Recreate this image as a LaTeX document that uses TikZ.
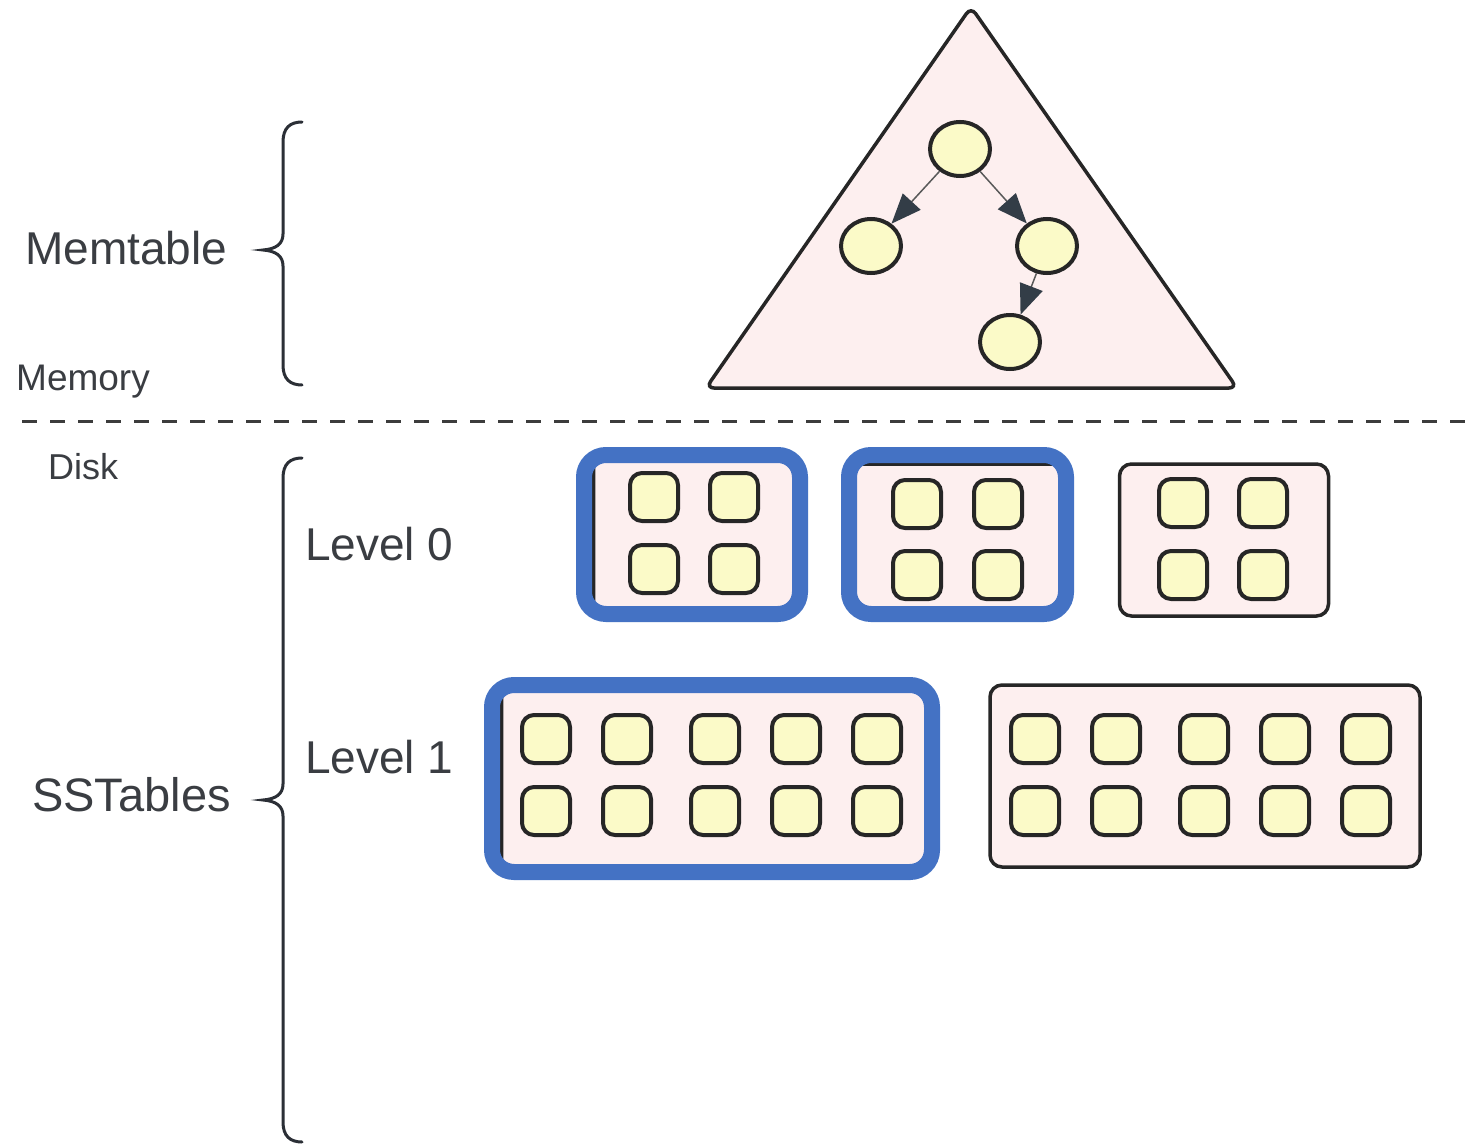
\documentclass[tikz,border=0pt]{standalone}
\usepackage{fontspec}
\setmainfont{Liberation Sans}
\usetikzlibrary{shapes.geometric,arrows.meta}

\definecolor{inkdark}{HTML}{262626}
\definecolor{textgray}{HTML}{3A3D42}
\definecolor{pinkfill}{HTML}{FDEFEF}
\definecolor{cellyellow}{HTML}{FBFAC8}
\definecolor{pickblue}{HTML}{4472C4}
\definecolor{headgray}{HTML}{333D47}
\definecolor{bracegray}{HTML}{2B2F36}

\begin{document}
\begin{tikzpicture}[x=1pt,y=-1pt,
  lbl/.style={text=textgray, inner sep=0pt, anchor=base west},
  cell/.style={draw=inkdark, fill=cellyellow, line width=4pt, rounded corners=12pt,
    minimum width=48pt, minimum height=48pt, inner sep=0pt},
  sstable/.style={draw=inkdark, fill=pinkfill, line width=3.5pt, rounded corners=12pt,
    inner sep=0pt, outer sep=0pt},
  picked/.style={draw=pickblue, line width=16pt, rounded corners=22pt,
    inner sep=0pt, outer sep=0pt},
  treenode/.style={ellipse, draw=inkdark, fill=cellyellow, line width=4pt,
    minimum width=60pt, minimum height=54pt, inner sep=0pt},
  treearrow/.style={draw=black!65, line width=1.5pt,
    -{Triangle[length=30pt,width=24pt,color=headgray]}},
  brace/.style={draw=bracegray, line width=3pt, line cap=round},
]
\useasboundingbox[fill=white] (0,0) rectangle (1472,1145);

% ---- labels ----
\node[lbl, font=\fontsize{46}{50}\selectfont] (memtable) at (25,264) {Memtable};
\node[lbl, font=\fontsize{37}{40}\selectfont] (memory) at (16,390) {Memory};
\node[lbl, font=\fontsize{36}{40}\selectfont] (disk) at (48,479) {Disk};
\node[lbl, font=\fontsize{46}{50}\selectfont] (level0) at (305,560) {Level 0};
\node[lbl, font=\fontsize{46}{50}\selectfont] (level1) at (305,773) {Level 1};
\node[lbl, font=\fontsize{47}{50}\selectfont] (sstables) at (32,811) {SSTables};

% ---- braces ----
\draw[brace] (302,122) .. controls (290,122) and (283,128) .. (283,142)
  -- (283,234) .. controls (283,244) and (276,249) .. (263,250)
  .. controls (276,251) and (283,256) .. (283,266)
  -- (283,365) .. controls (283,379) and (290,385) .. (302,385);
\draw[brace] (302,458) .. controls (290,458) and (283,464) .. (283,478)
  -- (283,784) .. controls (283,794) and (276,799) .. (263,800)
  .. controls (276,801) and (283,806) .. (283,816)
  -- (283,1122) .. controls (283,1136) and (290,1142) .. (302,1142);

% ---- memory / disk divider ----
\draw[draw=inkdark!90, line width=3pt, dash pattern=on 15pt off 13pt]
  (22,421) -- (1472,421);

% ---- memtable: tree inside a triangle ----
\draw[fill=pinkfill, draw=inkdark, line width=3.5pt, rounded corners=8pt]
  (971,388) -- (706,388) -- (971,7) -- (1237,388) -- cycle;
\node[treenode] (root) at (960,149) {};
\node[treenode] (left) at (871,246) {};
\node[treenode] (right) at (1047,246) {};
\node[treenode] (leaf) at (1010,342) {};
\draw[treearrow] (root) -- (left);
\draw[treearrow] (root) -- (right);
\draw[treearrow] (right) -- (leaf);

% ---- level 0 sstables ----
\node[sstable, minimum width=206.5pt, minimum height=159pt] (t0a) at (696.75,534.5) {};
\node[picked, minimum width=216pt, minimum height=159pt] (p0a) at (692,534.5) {};
\node[sstable, minimum width=217pt, minimum height=150pt] (t0b) at (957.5,539) {};
\node[picked, minimum width=217pt, minimum height=159pt] (p0b) at (957.5,534.5) {};
\node[sstable, minimum width=209pt, minimum height=152pt] (t0c) at (1224,540) {};

\foreach \x/\y in {654/497, 734/497, 654/569, 734/569,
                   917/504, 998/504, 917/575, 998/575,
                   1183/503, 1263/503, 1183/575, 1263/575}
  \node[cell] at (\x,\y) {};

% ---- level 1 sstables ----
\node[sstable, minimum width=430.5pt, minimum height=187pt] (t1a) at (716.75,778.5) {};
\node[picked, minimum width=440pt, minimum height=187pt] (p1a) at (712,778.5) {};
\node[sstable, minimum width=430pt, minimum height=182pt] (t1b) at (1205,776) {};

\foreach \x in {546, 627, 715, 796, 877, 1035, 1116, 1204, 1285, 1366}
  \foreach \y in {739, 811}
    \node[cell] at (\x,\y) {};
\end{tikzpicture}
\end{document}
